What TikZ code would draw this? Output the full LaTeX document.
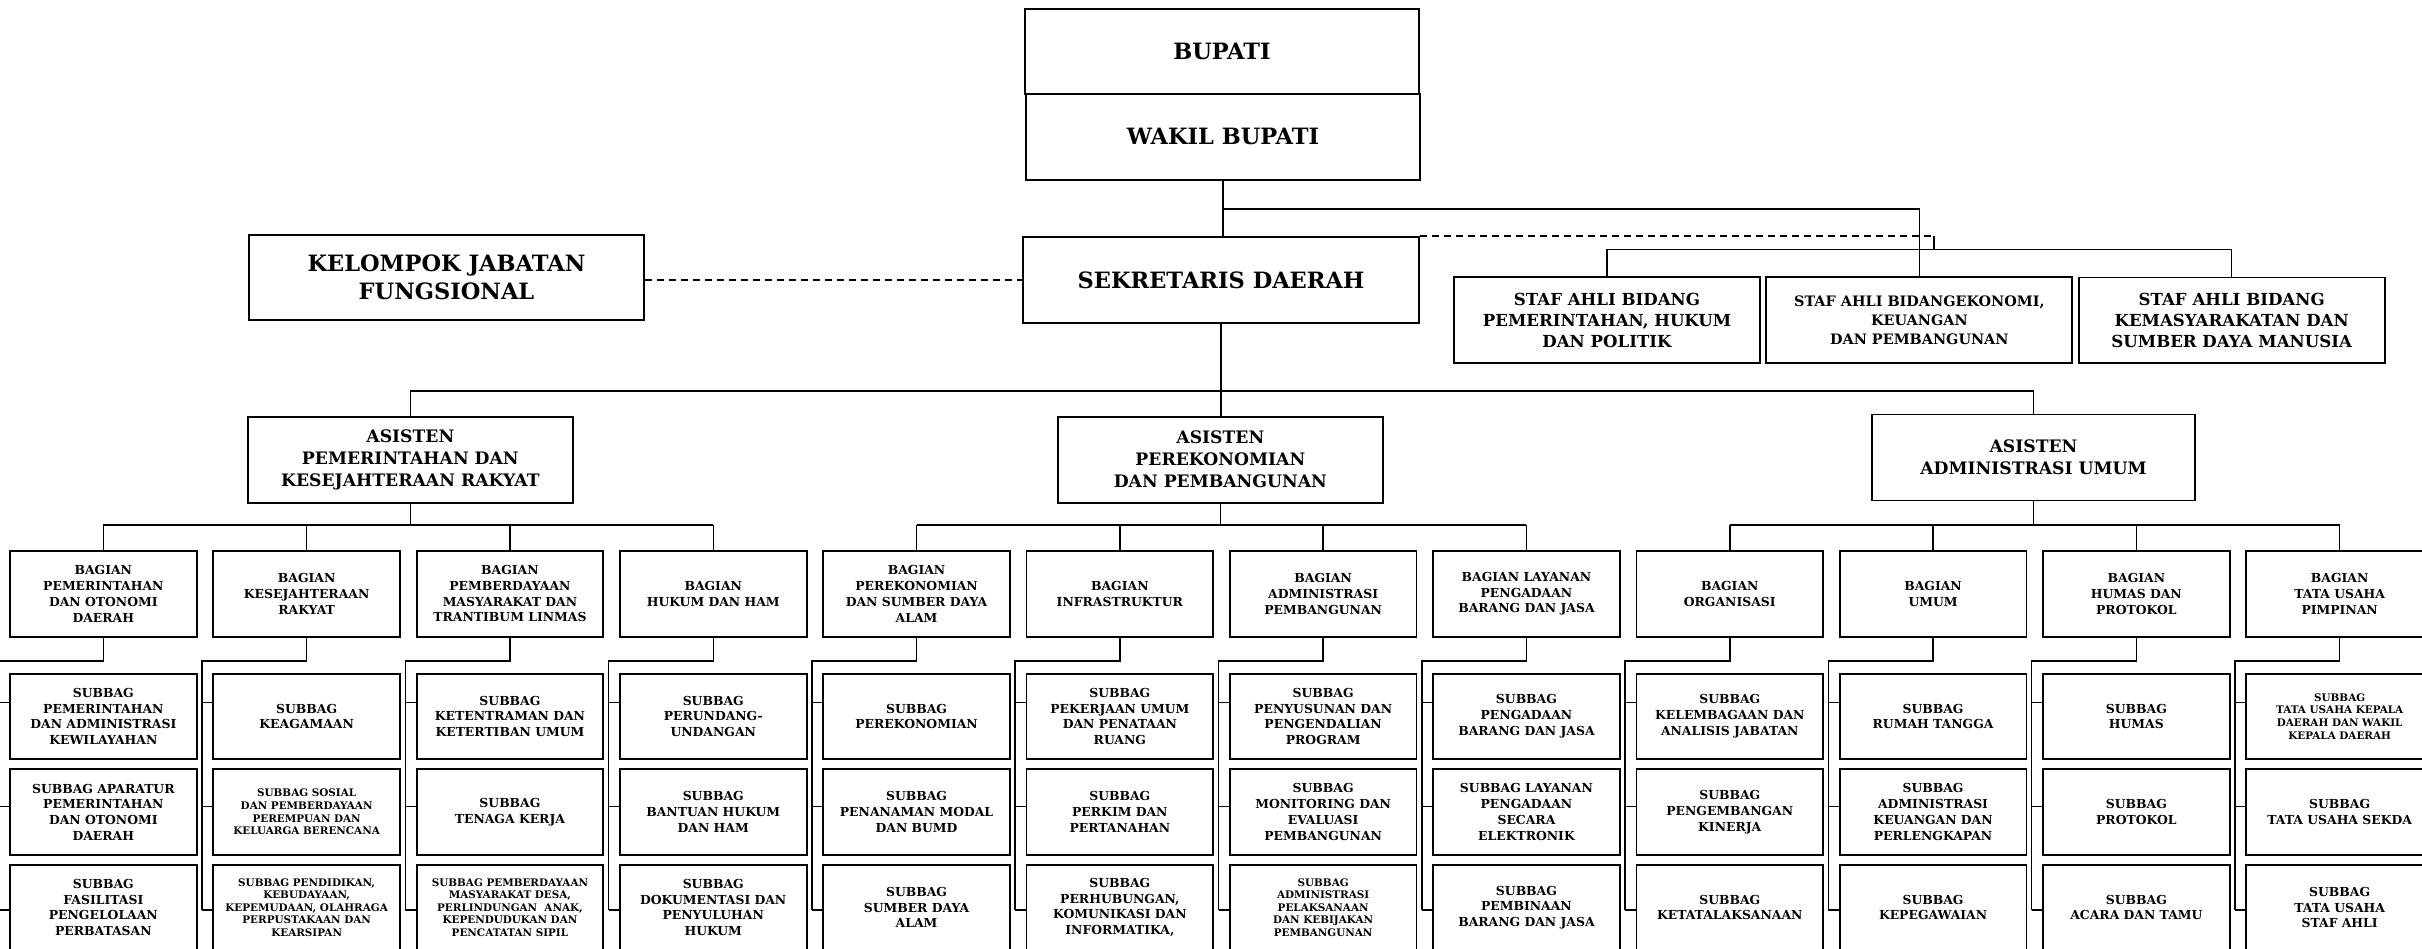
\documentclass[tikz,border=0pt]{standalone}
\usepackage{fontspec}
\setmainfont{DejaVu Serif}
\usetikzlibrary{calc}
\begin{document}
\begin{tikzpicture}[x=1pt,y=-1pt,
  box/.style={draw, line width=1.8pt, inner sep=0pt, align=center, fill=white},
  topbox/.style={box, minimum width=394pt, minimum height=85pt, font=\fontsize{22.5}{28}\selectfont\bfseries},
  stafbox/.style={box, minimum width=306pt, minimum height=85.5pt, font=\fontsize{16.6}{21}\selectfont\bfseries},
  asisbox/.style={box, minimum width=325pt, minimum height=86pt, font=\fontsize{17.2}{22}\selectfont\bfseries},
  bagbox/.style={box, minimum width=186.7pt, minimum height=85.7pt, font=\fontsize{12.4}{15.7}\selectfont\bfseries},
  subbox/.style={bagbox, minimum height=85.5pt},
  smalltxt/.style={font=\fontsize{10.4}{12.6}\selectfont\bfseries},
  conn/.style={line width=1.5pt},
  dashline/.style={line width=1.5pt, dash pattern=on 7pt off 5pt}
]
\useasboundingbox (0,0) rectangle (2422,948);
\fill[white] (0,0) rectangle (2422,948);
\clip (0,0) rectangle (2422,948);

% helper coordinates (y levels)
\coordinate (wb) at (0,209);
\coordinate (sb) at (0,249.3);
\coordinate (ab) at (0,391);
\coordinate (bb) at (0,525);
\coordinate (r1) at (0,702.7);
\coordinate (r2) at (0,806.7);
\coordinate (r3) at (0,910);
\coordinate (dj) at (1934,249.3);

% top
\node[topbox] (bupati) at (1222,51.5) {BUPATI};
\node[topbox, minimum height=86.3pt] (wakil) at (1223,136.85) {WAKIL BUPATI};
\node[topbox, minimum width=396.6pt, minimum height=85.7pt] (sekda) at (1221,279.85) {SEKRETARIS DAERAH};
\node[topbox, minimum width=395.6pt, minimum height=85.3pt] (kel) at (446.5,277.65) {KELOMPOK JABATAN\\FUNGSIONAL};

% staf ahli
\node[stafbox] (st1) at (1607,320) {STAF AHLI BIDANG\\PEMERINTAHAN, HUKUM\\DAN POLITIK};
\node[stafbox, font=\fontsize{14.4}{19}\selectfont\bfseries] (st2) at (1919.35,320) {STAF AHLI BIDANGEKONOMI,\\KEUANGAN\\DAN PEMBANGUNAN};
\node[stafbox] (st3) at (2231.65,320.3) {STAF AHLI BIDANG\\KEMASYARAKATAN DAN\\SUMBER DAYA MANUSIA};

% asisten
\node[asisbox] (a1) at (410.35,459.7) {ASISTEN\\PEMERINTAHAN DAN\\KESEJAHTERAAN RAKYAT};
\node[asisbox] (a2) at (1220.35,459.7) {ASISTEN\\PEREKONOMIAN\\DAN PEMBANGUNAN};
\node[asisbox, minimum width=323pt] (a3) at (2033.5,457.5) {ASISTEN\\ADMINISTRASI UMUM};

% bagian row (y center 593.85)
\node[bagbox] (b1) at (103.35,593.85) {BAGIAN\\PEMERINTAHAN\\DAN OTONOMI\\DAERAH};
\node[bagbox] (b2) at (306.65,593.85) {BAGIAN\\KESEJAHTERAAN\\RAKYAT};
\node[bagbox] (b3) at (509.95,593.85) {BAGIAN\\PEMBERDAYAAN\\MASYARAKAT DAN\\TRANTIBUM LINMAS};
\node[bagbox] (b4) at (713.25,593.85) {BAGIAN\\HUKUM DAN HAM};
\node[bagbox] (b5) at (916.55,593.85) {BAGIAN\\PEREKONOMIAN\\DAN SUMBER DAYA\\ALAM};
\node[bagbox] (b6) at (1119.85,593.85) {BAGIAN\\INFRASTRUKTUR};
\node[bagbox] (b7) at (1323.15,593.85) {BAGIAN\\ADMINISTRASI\\PEMBANGUNAN};
\node[bagbox] (b8) at (1526.45,593.85) {BAGIAN LAYANAN\\PENGADAAN\\BARANG DAN JASA};
\node[bagbox] (b9) at (1729.75,593.85) {BAGIAN\\ORGANISASI};
\node[bagbox] (b10) at (1933.05,593.85) {BAGIAN\\UMUM};
\node[bagbox] (b11) at (2136.35,593.85) {BAGIAN\\HUMAS DAN\\PROTOKOL};
\node[bagbox] (b12) at (2339.65,593.85) {BAGIAN\\TATA USAHA\\PIMPINAN};

% subbag row 1 (y 716.35)
\node[subbox] (s1-1) at (103.35,716.35) {SUBBAG\\PEMERINTAHAN\\DAN ADMINISTRASI\\KEWILAYAHAN};
\node[subbox] (s2-1) at (306.65,716.35) {SUBBAG\\KEAGAMAAN};
\node[subbox] (s3-1) at (509.95,716.35) {SUBBAG\\KETENTRAMAN DAN\\KETERTIBAN UMUM};
\node[subbox] (s4-1) at (713.25,716.35) {SUBBAG\\PERUNDANG-\\UNDANGAN};
\node[subbox] (s5-1) at (916.55,716.35) {SUBBAG\\PEREKONOMIAN};
\node[subbox] (s6-1) at (1119.85,716.35) {SUBBAG\\PEKERJAAN UMUM\\DAN PENATAAN\\RUANG};
\node[subbox] (s7-1) at (1323.15,716.35) {SUBBAG\\PENYUSUNAN DAN\\PENGENDALIAN\\PROGRAM};
\node[subbox] (s8-1) at (1526.45,716.35) {SUBBAG\\PENGADAAN\\BARANG DAN JASA};
\node[subbox] (s9-1) at (1729.75,716.35) {SUBBAG\\KELEMBAGAAN DAN\\ANALISIS JABATAN};
\node[subbox] (s10-1) at (1933.05,716.35) {SUBBAG\\RUMAH TANGGA};
\node[subbox] (s11-1) at (2136.35,716.35) {SUBBAG\\HUMAS};
\node[subbox, smalltxt] (s12-1) at (2339.65,716.35) {SUBBAG\\TATA USAHA KEPALA\\DAERAH DAN WAKIL\\KEPALA DAERAH};

% subbag row 2 (y 812)
\node[subbox] (s1-2) at (103.35,812) {SUBBAG APARATUR\\PEMERINTAHAN\\DAN OTONOMI\\DAERAH};
\node[subbox, smalltxt] (s2-2) at (306.65,812) {SUBBAG SOSIAL\\DAN PEMBERDAYAAN\\PEREMPUAN DAN\\KELUARGA BERENCANA};
\node[subbox] (s3-2) at (509.95,812) {SUBBAG\\TENAGA KERJA};
\node[subbox] (s4-2) at (713.25,812) {SUBBAG\\BANTUAN HUKUM\\DAN HAM};
\node[subbox] (s5-2) at (916.55,812) {SUBBAG\\PENANAMAN MODAL\\DAN BUMD};
\node[subbox] (s6-2) at (1119.85,812) {SUBBAG\\PERKIM DAN\\PERTANAHAN};
\node[subbox] (s7-2) at (1323.15,812) {SUBBAG\\MONITORING DAN\\EVALUASI\\PEMBANGUNAN};
\node[subbox] (s8-2) at (1526.45,812) {SUBBAG LAYANAN\\PENGADAAN\\SECARA\\ELEKTRONIK};
\node[subbox] (s9-2) at (1729.75,812) {SUBBAG\\PENGEMBANGAN\\KINERJA};
\node[subbox] (s10-2) at (1933.05,812) {SUBBAG\\ADMINISTRASI\\KEUANGAN DAN\\PERLENGKAPAN};
\node[subbox] (s11-2) at (2136.35,812) {SUBBAG\\PROTOKOL};
\node[subbox] (s12-2) at (2339.65,812) {SUBBAG\\TATA USAHA SEKDA};

% subbag row 3 (y 907.5)
\node[subbox] (s1-3) at (103.35,907.5) {SUBBAG\\FASILITASI\\PENGELOLAAN\\PERBATASAN};
\node[subbox, smalltxt] (s2-3) at (306.65,907.5) {SUBBAG PENDIDIKAN,\\KEBUDAYAAN,\\KEPEMUDAAN, OLAHRAGA\\PERPUSTAKAAN DAN\\KEARSIPAN};
\node[subbox, smalltxt] (s3-3) at (509.95,907.5) {SUBBAG PEMBERDAYAAN\\MASYARAKAT DESA,\\PERLINDUNGAN \ ANAK,\\KEPENDUDUKAN DAN\\PENCATATAN SIPIL};
\node[subbox] (s4-3) at (713.25,907.5) {SUBBAG\\DOKUMENTASI DAN\\PENYULUHAN\\HUKUM};
\node[subbox] (s5-3) at (916.55,907.5) {SUBBAG\\SUMBER DAYA\\ALAM};
\node[subbox] (s6-3) at (1119.85,907.5) {SUBBAG\\PERHUBUNGAN,\\KOMUNIKASI DAN\\INFORMATIKA,};
\node[subbox, smalltxt] (s7-3) at (1323.15,907.5) {SUBBAG\\ADMINISTRASI\\PELAKSANAAN\\DAN KEBIJAKAN\\PEMBANGUNAN};
\node[subbox] (s8-3) at (1526.45,907.5) {SUBBAG\\PEMBINAAN\\BARANG DAN JASA};
\node[subbox] (s9-3) at (1729.75,907.5) {SUBBAG\\KETATALAKSANAAN};
\node[subbox] (s10-3) at (1933.05,907.5) {SUBBAG\\KEPEGAWAIAN};
\node[subbox] (s11-3) at (2136.35,907.5) {SUBBAG\\ACARA DAN TAMU};
\node[subbox] (s12-3) at (2339.65,907.5) {SUBBAG\\TATA USAHA\\STAF AHLI};

% ---- connectors: top
\draw[conn] (wakil.south) -- (wakil.south |- sekda.north);
\draw[conn] (wakil.south |- wb) -| (st2.north);
\draw[dashline] (sekda.north east) -- (sekda.north east -| dj);
\draw[conn] (sekda.north east -| dj) -- (dj);
\draw[conn] (st1.north) -- (st1.north |- sb) -- (st3.north |- sb) -- (st3.north);
\draw[dashline] (kel.east |- sekda.west) -- (sekda.west);
\draw[conn] (sekda.south) -- (sekda.south |- a2.north);
\draw[conn] (a1.north) -- (a1.north |- ab) -- (a3.north |- ab) -- (a3.north);

% asisten to bagian
\foreach \a/\f/\l in {1/1/4, 2/5/8, 3/9/12}{
  \draw[conn] (a\a.south) -- (a\a.south |- bb);
  \draw[conn] (b\f.north |- bb) -- (b\l.north |- bb);
}
\foreach \i in {1,...,12}{
  \draw[conn] (b\i.north) -- (b\i.north |- bb);
}

% bagian to subbag
\foreach \i in {1,...,12}{
  \pgfmathsetmacro{\sx}{-1.3+203.3*(\i-1)}
  \coordinate (k\i) at (\sx,661);
  \draw[conn] (b\i.south) |- (k\i) -- (k\i |- r3);
  \draw[conn] (k\i |- r1) -- (s\i-1.west |- r1);
  \draw[conn] (k\i |- r2) -- (s\i-2.west |- r2);
  \draw[conn] (k\i |- r3) -- (s\i-3.west |- r3);
}
\end{tikzpicture}
\end{document}
